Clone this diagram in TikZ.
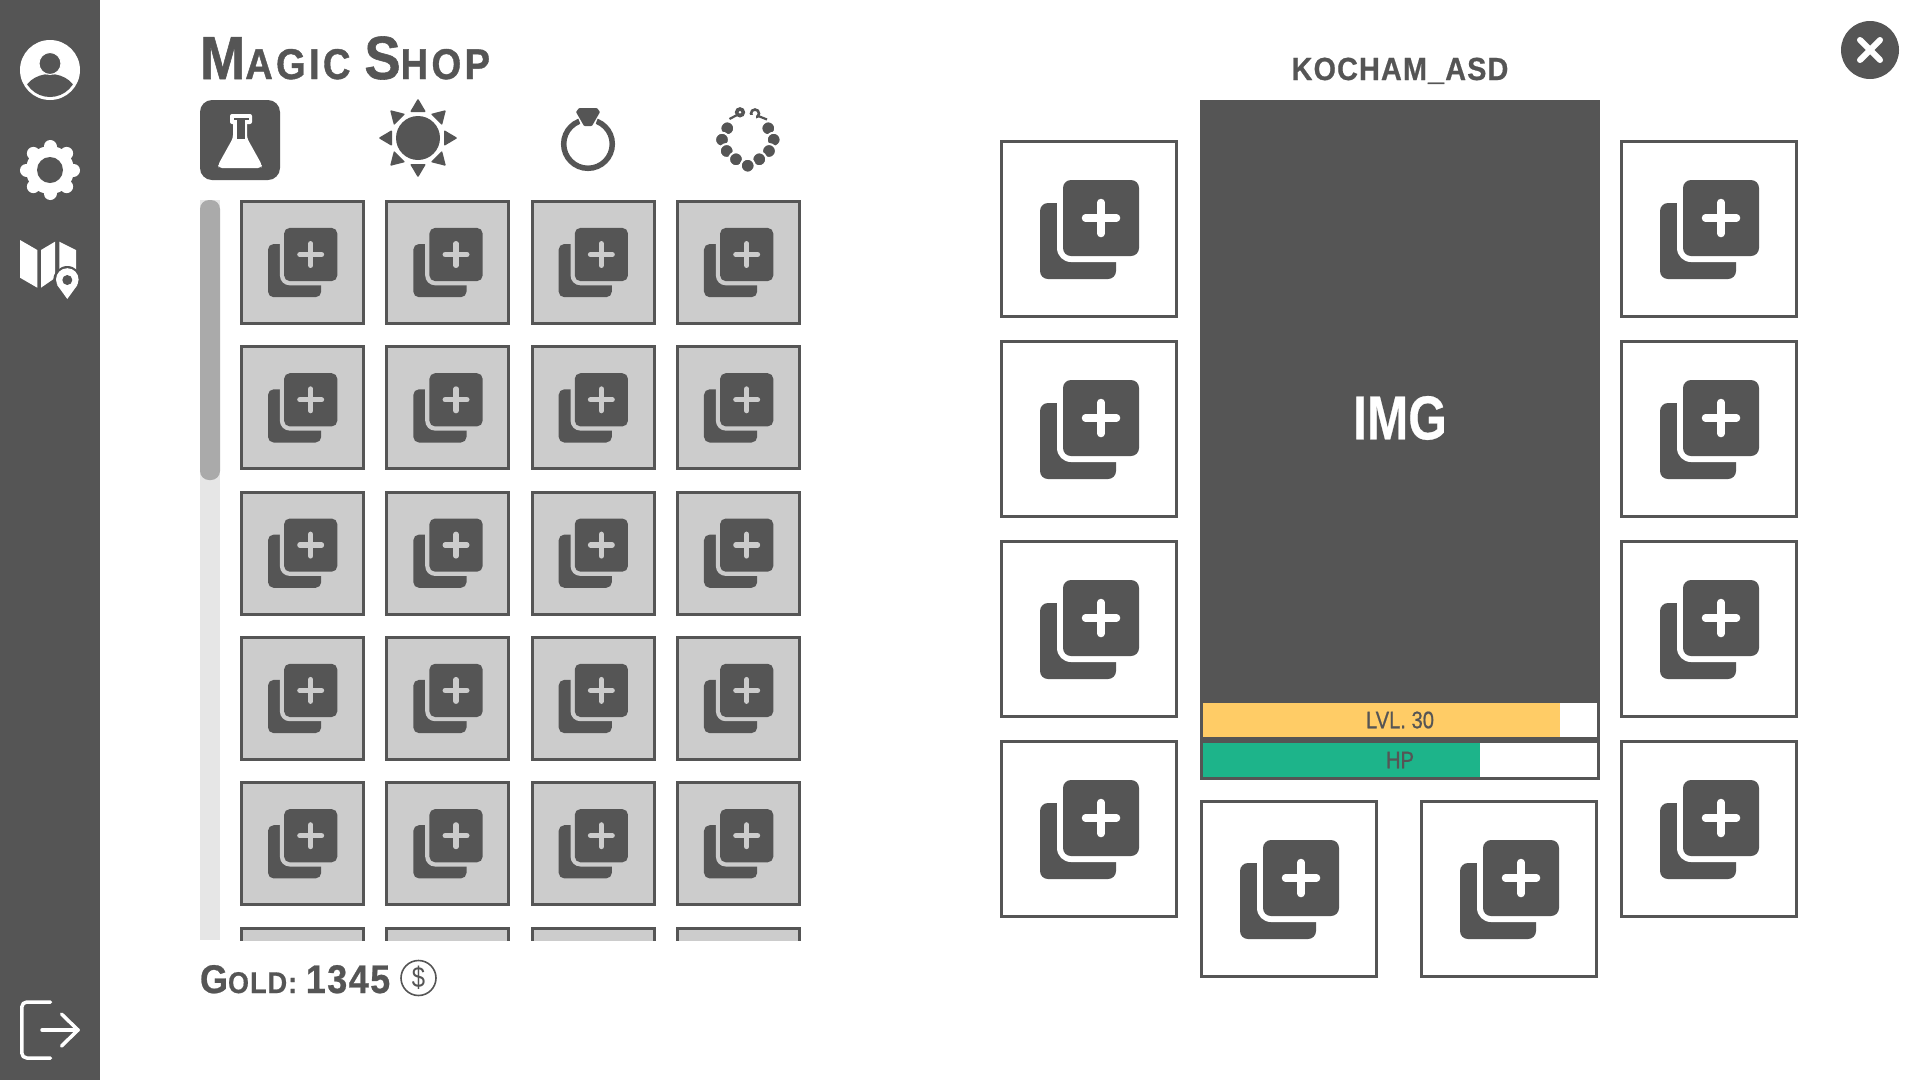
\documentclass[tikz,border=0pt]{standalone}
\usepackage{fontspec}
\setmainfont{Liberation Sans}
\newfontfamily\narrowfont[FakeStretch=0.82]{Liberation Sans}
\newfontfamily\medfont[FakeStretch=0.84,FakeBold=0.7]{Liberation Sans}
\newfontfamily\imgfont[FakeStretch=0.80,FakeBold=0.4]{Liberation Sans}
\newfontfamily\titlefont[FakeStretch=0.89,LetterSpace=7.5,BoldFeatures={FakeBold=0.9}]{Liberation Sans}
\newfontfamily\spacedfont[FakeStretch=0.90,LetterSpace=3.6,BoldFeatures={FakeBold=0.6}]{Liberation Sans}
\definecolor{dark}{HTML}{555555}
\definecolor{cellgray}{HTML}{CCCCCC}
\definecolor{trackgray}{HTML}{E6E6E6}
\definecolor{thumbgray}{HTML}{AAAAAA}
\definecolor{lvlyellow}{HTML}{FFCC66}
\definecolor{hpgreen}{HTML}{1DB48A}
\tikzset{
  label text/.style={inner sep=0pt,outer sep=0pt,text=dark,font=\spacedfont\bfseries},
  slotbox/.style={draw=dark,line width=3pt},
  whiteline/.style={draw=white,line cap=round,line join=round},
}
\newcommand{\addicon}[4]{%
  \pgfmathsetlengthmacro{\rA}{8*#3}%
  \pgfmathsetlengthmacro{\rB}{14*#3}%
  \pgfmathsetlengthmacro{\lw}{7.5*#3}%
  \begin{scope}[shift={(#1,#2)},x=#3pt,y=-#3pt]
    \fill[dark,rounded corners=\rA] (0,0) rectangle (76,76);
    \fill[#4,rounded corners=\rB] (17,-29) rectangle (105,59);
    \fill[dark,rounded corners=\rA] (23,-23) rectangle (99,53);
    \draw[#4,line width=\lw,line cap=round] (61,-0.5) -- (61,30.5);
    \draw[#4,line width=\lw,line cap=round] (45.5,15) -- (76.5,15);
  \end{scope}}
\newcommand{\bigslot}[2]{%
  \draw[slotbox,fill=white] (#1+1.5,#2+1.5) rectangle (#1+176.5,#2+176.5);
  \addicon{#1+40}{#2+63}{1}{white}}
\begin{document}
\begin{tikzpicture}[x=1pt,y=-1pt]
\useasboundingbox (0,0) rectangle (1920,1080);
\fill[white] (0,0) rectangle (1920,1080);
% sidebar
\fill[dark] (0,0) rectangle (100,1080);
% user
\fill[white] (50,70) circle[radius=30];
\begin{scope}
  \clip (50,70) circle[radius=27];
  \fill[dark] (50,96) ellipse[x radius=27,y radius=22];
\end{scope}
\draw[white,line width=1pt,fill=dark] (50,63.5) circle[radius=11];
% gear
\begin{scope}[shift={(50,170)}]
  \foreach \a in {0,45,...,315}{
    \draw[white,line width=13pt,line cap=round] (\a:18) -- (\a:23.5);
  }
  \fill[white] (0,0) circle[radius=24];
  \fill[dark] (0,0) circle[radius=13];
\end{scope}
% map
\fill[white] (20,240) -- (37.3,250) -- (37.3,287.7) -- (20,277.7) -- cycle;
\fill[white] (41,250) -- (55,241.7) -- (55,278) -- (41,287.7) -- cycle;
\fill[white] (59.3,241.7) -- (76,250) -- (76,272) -- (59.3,272) -- cycle;
\fill[dark] (67.3,280) circle[radius=14];
\fill[white] (67.3,299) -- (57.2,285) -- (77.4,285) -- cycle;
\fill[white] (67.3,279.5) circle[radius=11.3];
\fill[dark] (67.3,280) circle[radius=5];
% exit
\draw[whiteline,line width=3.5pt,rounded corners=5pt] (50.5,1002) -- (21.8,1002) -- (21.8,1058) -- (50.5,1058);
\draw[whiteline,line width=3.5pt] (42,1030) -- (78,1030);
\draw[whiteline,line width=3.5pt] (61.5,1014) -- (78,1030) -- (61.5,1046);
% title
\node[label text,font=\titlefont\bfseries,anchor=base west] (title) at (200,79)
  {{\fontsize{61}{61}\selectfont M}{\fontsize{43}{43}\selectfont AGIC }{\fontsize{61}{61}\selectfont S}{\fontsize{43}{43}\selectfont HOP}};
% flask tab
\fill[dark,rounded corners=12pt] (200,100) rectangle (280,180);
\fill[white,rounded corners=2pt] (230,114) rectangle (252,124);
\fill[white,rounded corners=3pt] (233,120) -- (247,120) -- (247,138) -- (262,165) -- (261,168) -- (219,168) -- (218,165) -- (233,138) -- cycle;
\fill[dark] (233.5,117.5) rectangle (248.5,120);
\fill[dark] (237.3,120) rectangle (244.5,139);
% sun
\fill[dark] (418,138) circle[radius=22];
\foreach \a in {0,45,...,315}{
  \fill[dark,rounded corners=1pt,rotate around={\a:(418,138)}] (418,98.5) -- (426,112) -- (410,112) -- cycle;
}
% ring
\draw[dark,line width=5.5pt] (588,144) circle[radius=24.3];
\fill[white] (588,144) -- (577.5,116) -- (598.5,116) -- cycle;
\fill[white] (575,105) -- (601,105) -- (594,128) -- (582,128) -- cycle;
\fill[dark,rounded corners=0.8pt] (579,108) -- (597,108) -- (600,112) -- (592,126) -- (584,126) -- (576,112) -- cycle;
% necklace
\foreach \x/\y in {727.3/128.3,768.3/128.3,722/139.7,773.7/139.7,726.7/151,769/151,736/159.3,759.3/159.3,747.7/165.7}{
  \fill[dark,draw=white,line width=2pt] (\x,\y) circle[radius=7];
}
\fill[dark,even odd rule] (740,112.3) circle[radius=5.2] (740,112.3) circle[radius=1.6];
\draw[dark,line width=2.2pt] (737,115) -- (729.5,119);
\draw[dark,line width=2.6pt] (755,113.5) circle[radius=4];
\fill[white] (750,115) rectangle (755.5,121);
\draw[dark,line width=2.2pt] (757,115.5) -- (767,119.5);
% scrollbar
\fill[trackgray] (200,200) rectangle (220,940);
\fill[thumbgray,rounded corners=9pt] (200,200) rectangle (220,480);
% shop grid
\begin{scope}
  \clip (236,195) rectangle (806,940);
  \foreach \r in {0,...,5}{
    \foreach \c in {0,...,3}{
      \pgfmathsetmacro{\cx}{240+145.33*\c}
      \pgfmathsetmacro{\cy}{200+145.3*\r}
      \draw[slotbox,fill=cellgray] (\cx+1.5,\cy+1.5) rectangle (\cx+123.5,\cy+123.5);
      \addicon{\cx+28}{\cy+44}{0.7}{cellgray}
    }
  }
\end{scope}
% gold
\node[label text,anchor=base west] (gold) at (200,993)
  {{\fontsize{40}{40}\selectfont G}{\fontsize{30}{30}\selectfont OLD: }{\fontsize{40}{40}\selectfont 1345}};
\draw[dark,line width=1.6pt] (418.5,978) circle[radius=17.5];
\node[inner sep=0pt,text=dark,font=\narrowfont\fontsize{29}{29}\selectfont] (coin) at (418.5,978) {\$};
% character name
\node[label text,anchor=base,font=\spacedfont\bfseries\fontsize{32}{32}\selectfont] (name) at (1400,80) {KOCHAM\_ASD};
% character panel
\fill[dark] (1200,100) rectangle (1600,780);
\fill[white] (1203,703) rectangle (1597,737);
\fill[lvlyellow] (1203,703) rectangle (1560,737);
\fill[white] (1203,743) rectangle (1597,777);
\fill[hpgreen] (1203,743) rectangle (1480,777);
\node[inner sep=0pt,text=white,font=\imgfont\bfseries\fontsize{62}{62}\selectfont] (img) at (1400,418) {IMG};
\node[inner sep=0pt,text=dark,font=\medfont\fontsize{24}{24}\selectfont] (lvl) at (1400,720) {LVL. 30};
\node[inner sep=0pt,text=dark,font=\medfont\fontsize{24}{24}\selectfont] (hp) at (1400,760) {HP};
% equipment slots
\foreach \yy in {140,340,540,740}{
  \bigslot{1000}{\yy}
  \bigslot{1620}{\yy}
}
\bigslot{1200}{800}
\bigslot{1420}{800}
% close
\fill[dark] (1870,50) circle[radius=29];
\draw[whiteline,line width=6pt] (1860,40) -- (1880,60);
\draw[whiteline,line width=6pt] (1880,40) -- (1860,60);
\end{tikzpicture}
\end{document}
